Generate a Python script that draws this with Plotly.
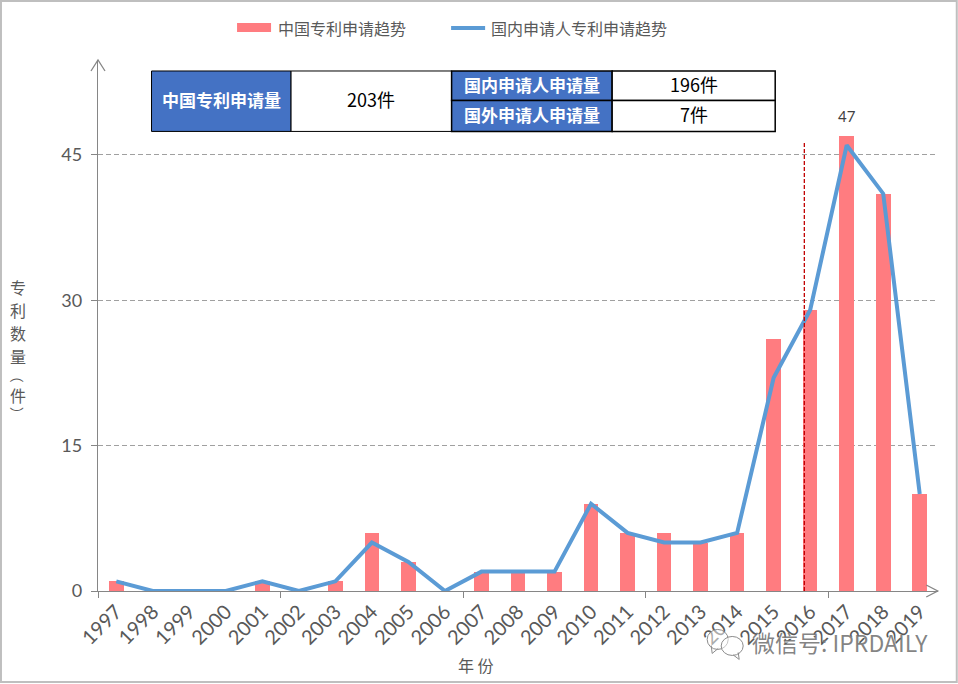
import plotly.graph_objects as go

W = 958
H = 684
L, R, T, B = 98, 937.75, 60, 591.5

years = list(range(1997, 2020))
china_apps = [1, 0, 0, 0, 1, 0, 1, 6, 3, 0, 2, 2, 2, 9, 6, 6, 5, 6, 26, 29, 47, 41, 10]
domestic_apps = [1, 0, 0, 0, 1, 0, 1, 5, 3, 0, 2, 2, 2, 9, 6, 5, 5, 6, 22, 29, 46, 41, 10]
y_ticks = [0, 15, 30, 45]
minor_ticks = [1996.5, 2001.5, 2006.5, 2011.5, 2016.5]

CJK = "Noto Sans CJK SC"
LATIN = "Lato"
GRAY = "#595959"


# reference is measured in page pixels, these turn them into paper coords
def px(x):
    return (x - L) / (R - L)


def py(y):
    return (B - y) / (B - T)


def label(x, y, text, size=16, color=GRAY, family=CJK, anchor="center", shadow="none", angle=0):
    fig.add_annotation(x=px(x), y=py(y), xref="paper", yref="paper", text=text, showarrow=False,
                       xanchor=anchor, yanchor="middle", textangle=angle,
                       font=dict(family=family, size=size, color=color, shadow=shadow))


def rect(x0, y0, x1, y1, fill, line="black", width=1):
    fig.add_shape(type="rect", xref="paper", yref="paper", x0=px(x0), y0=py(y0), x1=px(x1), y1=py(y1),
                  fillcolor=fill, line=dict(color=line, width=width))


def poly(points, color="#868686", width=1.3):
    path = "M" + " L".join(f"{px(a)},{py(b)}" for a, b in points)
    fig.add_shape(type="path", xref="paper", yref="paper", path=path, line=dict(color=color, width=width))


def bubble(x0, y0, x1, y1):
    fig.add_shape(type="circle", xref="paper", yref="paper", x0=px(x0), y0=py(y0), x1=px(x1), y1=py(y1),
                  fillcolor="rgba(255,255,255,0.5)", line=dict(color="#8c8c8c", width=1))


fig = go.Figure()
fig.add_trace(go.Bar(x=years, y=china_apps, width=0.4, marker=dict(color="#FF7C80", line_width=0)))
fig.add_trace(go.Scatter(x=years, y=domestic_apps, mode="lines", cliponaxis=False,
                         line=dict(color="#5B9BD5", width=4)))

fig.update_xaxes(range=[1996.5, 2019.5], tickmode="array", tickvals=years, ticktext=[str(y) for y in years],
                 tickangle=-45, ticks="", showgrid=False, zeroline=False,
                 showline=True, linecolor="#868686", linewidth=1.3,
                 tickfont=dict(family=LATIN, size=20, color=GRAY),
                 minor=dict(tickmode="array", tickvals=minor_ticks, ticks="outside", ticklen=6,
                            tickcolor="#868686", tickwidth=1, showgrid=False))
fig.update_yaxes(range=[0, (B - T) / 9.7], tickmode="array", tickvals=y_ticks, ticks="outside", ticklen=6,
                 tickcolor="#868686", showline=True, linecolor="#868686", linewidth=1.3,
                 showgrid=True, gridcolor="#A0A0A0", griddash="5px,3px", gridwidth=1, zeroline=False,
                 ticklabelstandoff=5, tickfont=dict(family=LATIN, size=18, color=GRAY))

# axis arrows
poly([(91, 71), (98, 60), (105, 71)])
poly([(926, 585.5), (937.5, 591.5), (926, 597.5)])

# red marker line
fig.add_shape(type="line", x0=2015.84, x1=2015.84, y0=0, y1=46.3, xref="x", yref="y",
              line=dict(color="#C00000", width=1.3, dash="4px,2px"))

fig.add_annotation(x=years[20], y=china_apps[20], text=str(china_apps[20]), showarrow=False, yshift=20,
                   font=dict(family=LATIN, size=15, color="#404040"))

# legend
rect(237, 23, 271, 32, "#FF7C80", line="#FF7C80", width=0)
label(276, 28, "中国专利申请趋势", anchor="left")
poly([(451, 28), (485, 28)], color="#5B9BD5", width=4)
label(489, 28, "国内申请人专利申请趋势", anchor="left")

# summary table
BLUE = "#4472C4"
rect(151.5, 71, 291, 131.5, BLUE)
rect(291, 71, 451.5, 131.5, "white")
rect(451.5, 71, 612, 100.5, BLUE, width=1.5)
rect(612, 71, 775, 100.5, "white", width=1.5)
rect(451.5, 100.5, 612, 131.5, BLUE, width=1.5)
rect(612, 100.5, 775, 131.5, "white", width=1.5)
label(221, 100, "<b>中国专利申请量</b>", size=17, color="white")
label(371, 99, "203件", size=18, color="black")
label(532, 85, "<b>国内申请人申请量</b>", size=17, color="white")
label(694, 84, "196件", size=18, color="black")
label(532, 115, "<b>国外申请人申请量</b>", size=17, color="white")
label(694, 114, "7件", size=18, color="black")

# axis titles, stacked by hand, brackets are turned so they read as arcs
label(476, 666, "年 份")
for ch, y in zip("专利数量", [287, 310.3, 333.5, 356.7]):
    label(18, y, ch)
label(18, 376, "（", size=14, angle=90)
label(18, 395, "件")
label(18, 414, "）", size=14, angle=90)

# watermark
bubble(707, 630, 728, 650)
poly([(711, 646), (712, 654), (718, 649)], color="#8c8c8c", width=1)
bubble(721, 637, 743, 656)
poly([(738, 653), (739, 660), (733, 655.5)], color="#8c8c8c", width=1)
label(840, 643, "微信号: IPRDAILY", size=23, color="rgba(110,110,110,0.85)", shadow="1px 1px 0px white")

# outer frame
fig.add_shape(type="rect", xref="paper", yref="paper", x0=px(1), y0=py(1), x1=px(956.5), y1=py(682.5),
              line=dict(color="#BFBFBF", width=2), layer="below")

fig.update_layout(width=W, height=H, showlegend=False, paper_bgcolor="white", plot_bgcolor="white",
                  margin=dict(l=L, r=W - R, t=T, b=H - B, autoexpand=False), bargap=0)
fig.write_html("out.html", post_script="document.body.style.margin='0';", config={"displayModeBar": False})
